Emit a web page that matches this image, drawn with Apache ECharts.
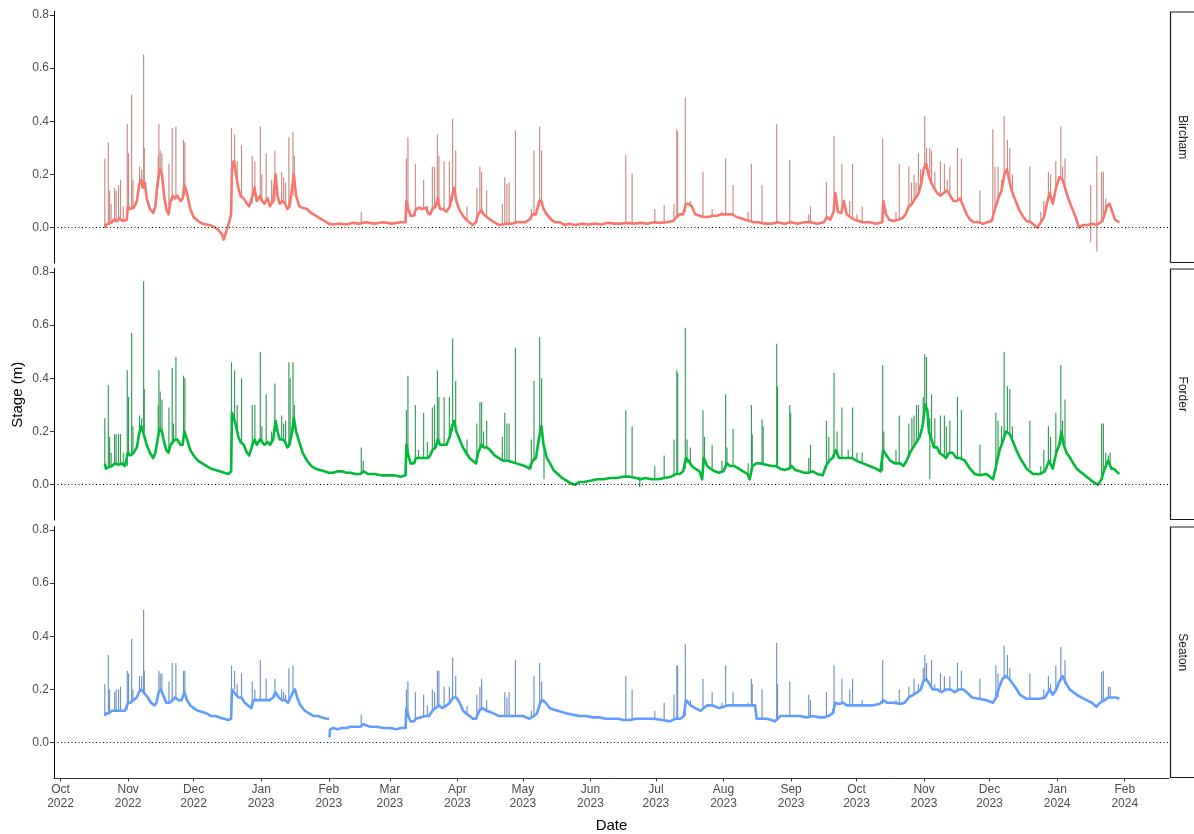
<!DOCTYPE html>
<html>
<head>
<meta charset="utf-8">
<title>Stage (m) by site</title>
<script src="https://cdn.jsdelivr.net/npm/echarts@6/dist/echarts.min.js"></script>
<style>
  html, body { margin: 0; padding: 0; background: #fff; }
  #chart { width: 1194px; height: 834px; }
</style>
</head>
<body>
<div id="chart"></div>
<script>
// Days are counted from 1 Oct 2022. Stage values in metres.
const sites = ['Bircham', 'Forder', 'Seaton'];
const siteColors = ['#F8766D', '#00BA38', '#619CFF'];
const spikeColors = ['#c98a85', '#349a58', '#6f92c4'];

const monthTicks = ['2022-10', '2022-11', '2022-12', '2023-01', '2023-02', '2023-03', '2023-04', '2023-05',
  '2023-06', '2023-07', '2023-08', '2023-09', '2023-10', '2023-11', '2023-12', '2024-01', '2024-02'];
const monthNames = ['Jan', 'Feb', 'Mar', 'Apr', 'May', 'Jun', 'Jul', 'Aug', 'Sep', 'Oct', 'Nov', 'Dec'];
const stageTicks = [0, 0.2, 0.4, 0.6, 0.8];

// Slowly varying stage: [day, stage]
const birchamBase = [[20.3,0.0],[20.8,0.01],[22,0.015],[23.5,0.02],[24.5,0.03],[26,0.025],[27,0.035],[28.5,0.025],[30.4,0.03],[30.9,0.08],[32,0.07],[33.5,0.075],[35,0.1],[36,0.16],[37,0.18],[37.8,0.15],[38.6,0.17],[39.5,0.11],[41,0.07],[42.5,0.055],[43.5,0.08],[44.5,0.17],[45.5,0.22],[46.5,0.2],[47.5,0.12],[48.5,0.07],[49.5,0.05],[50.5,0.1],[51.5,0.12],[52.5,0.11],[53.5,0.12],[55,0.1],[56,0.11],[56.8,0.16],[58,0.13],[59.5,0.07],[61,0.04],[63,0.025],[65,0.015],[67,0.012],[69,0.008],[71,0.0],[72.5,-0.01],[74,-0.025],[74.8,-0.045],[75.6,-0.025],[76.5,0.0],[77.3,0.02],[78.2,0.05],[78.6,0.22],[79.5,0.25],[80.5,0.2],[81.5,0.15],[82.5,0.12],[84,0.11],[85.5,0.09],[86.5,0.08],[88,0.12],[89,0.15],[90,0.1],[91.5,0.12],[92.5,0.1],[93.5,0.09],[95,0.11],[96,0.08],[97.5,0.1],[98.6,0.2],[99.5,0.12],[100.5,0.09],[102,0.1],[103,0.09],[104,0.07],[105,0.08],[106.2,0.15],[107,0.2],[108,0.12],[109.5,0.08],[111,0.075],[113,0.07],[115,0.055],[117,0.045],[119,0.035],[121,0.025],[123,0.015],[125,0.012],[128,0.015],[131,0.012],[134,0.018],[137,0.015],[140,0.02],[144,0.015],[148,0.02],[152,0.015],[156,0.02],[158.2,0.02],[158.6,0.1],[159.5,0.07],[160.5,0.045],[162,0.045],[163,0.07],[164.5,0.075],[166,0.07],[167.5,0.075],[168.5,0.055],[169.5,0.05],[170.5,0.07],[172,0.08],[173,0.11],[174,0.07],[175.5,0.07],[177,0.06],[178.5,0.08],[179.5,0.12],[180.5,0.15],[181.5,0.1],[183,0.065],[184.5,0.045],[186,0.03],[187.5,0.02],[189,0.01],[190.5,0.02],[191.5,0.05],[193,0.065],[194,0.05],[195.5,0.04],[197,0.03],[199,0.02],[201,0.01],[203,0.012],[205,0.015],[207,0.015],[209,0.02],[211,0.02],[213,0.02],[215,0.03],[216.5,0.05],[218,0.05],[219.5,0.1],[220.5,0.1],[221.5,0.07],[223,0.05],[225,0.03],[227,0.02],[229,0.02],[231,0.01],[233,0.015],[236,0.01],[239,0.015],[242,0.012],[245,0.015],[248,0.012],[251,0.018],[254,0.015],[257,0.015],[260,0.018],[263,0.015],[266,0.018],[269,0.015],[272,0.02],[275,0.018],[278,0.02],[281,0.025],[282.5,0.04],[284,0.05],[285.5,0.05],[286.8,0.09],[288,0.09],[289.5,0.08],[291,0.05],[293,0.045],[295,0.04],[297,0.04],[299,0.045],[301,0.045],[303,0.05],[305,0.05],[306.5,0.05],[308,0.05],[310,0.04],[312,0.035],[314,0.03],[316,0.025],[318,0.02],[320,0.02],[323,0.015],[326,0.015],[329,0.02],[332,0.015],[335,0.02],[338,0.015],[341,0.02],[344,0.02],[347,0.015],[350,0.02],[351.5,0.04],[353,0.03],[354.5,0.06],[355.3,0.13],[356.5,0.06],[358,0.055],[359.2,0.1],[360.5,0.05],[362,0.04],[364,0.03],[366,0.025],[368,0.02],[371,0.02],[374,0.015],[376.8,0.02],[377.3,0.1],[378.5,0.05],[380,0.03],[382,0.025],[384,0.03],[386,0.035],[387.5,0.05],[389,0.08],[390.5,0.09],[392,0.11],[393.5,0.13],[394.8,0.17],[395.8,0.22],[397,0.24],[398,0.2],[399.2,0.17],[400.5,0.15],[402,0.13],[403.5,0.12],[405,0.13],[406.5,0.14],[408,0.12],[409.5,0.1],[411,0.1],[412.5,0.11],[414,0.08],[415.5,0.05],[417,0.03],[419,0.02],[421,0.02],[423,0.015],[425,0.02],[427,0.025],[428.5,0.07],[430,0.11],[431.5,0.14],[432.8,0.2],[434,0.22],[435.5,0.16],[437,0.12],[438.5,0.09],[440,0.06],[441.5,0.04],[443,0.025],[445,0.02],[446.5,0.01],[448,0.0],[449.5,0.02],[451,0.04],[452.3,0.09],[453.5,0.13],[455,0.09],[456.5,0.15],[458,0.19],[459.5,0.18],[461,0.14],[462.5,0.1],[464,0.07],[465.5,0.04],[467,0.0],[469,0.01],[471,0.01],[473,0.015],[475,0.01],[477,0.02],[478.5,0.04],[479.8,0.08],[481,0.09],[482.3,0.06],[483.5,0.03],[485.5,0.02]];

const forderBase = [[20.3,0.08],[20.8,0.06],[22,0.065],[23.5,0.07],[25,0.08],[26.5,0.075],[28,0.08],[29.5,0.07],[30.4,0.07],[30.9,0.12],[32,0.11],[33.5,0.12],[35,0.14],[36,0.19],[37,0.22],[37.8,0.2],[38.6,0.2],[39.5,0.15],[41,0.12],[42.5,0.1],[43.5,0.12],[44.5,0.17],[45.5,0.21],[46.5,0.2],[47.5,0.16],[48.5,0.13],[49.5,0.12],[50.5,0.15],[51.5,0.16],[52.5,0.17],[53.5,0.17],[55,0.15],[56,0.15],[56.8,0.2],[58,0.17],[59.5,0.13],[61,0.11],[63,0.09],[65,0.08],[67,0.07],[69,0.06],[71,0.055],[73,0.05],[75,0.045],[77,0.04],[78.2,0.05],[78.6,0.27],[79.5,0.25],[80.5,0.22],[81.5,0.18],[82.5,0.16],[84,0.15],[85.5,0.12],[86.5,0.11],[88,0.15],[89,0.17],[90,0.15],[91.5,0.17],[92.5,0.16],[93.5,0.15],[95,0.16],[96,0.15],[97.5,0.17],[98.6,0.24],[99.5,0.2],[100.5,0.17],[102,0.17],[103,0.16],[104,0.14],[105,0.15],[106.2,0.2],[107,0.25],[108,0.2],[109.5,0.16],[111,0.12],[113,0.09],[115,0.07],[117,0.06],[119,0.055],[121,0.05],[123,0.045],[125,0.045],[127,0.05],[129,0.05],[131,0.045],[133,0.045],[135,0.04],[137.5,0.04],[139,0.05],[141,0.04],[144,0.04],[147,0.035],[150,0.035],[153,0.035],[156,0.03],[158.2,0.035],[158.6,0.15],[159.5,0.11],[160.5,0.08],[162,0.08],[163,0.1],[164.5,0.1],[166,0.1],[167.5,0.1],[168.5,0.1],[169.5,0.11],[170.5,0.13],[172,0.14],[173,0.17],[174,0.15],[175.5,0.15],[177,0.15],[178.5,0.18],[179.5,0.22],[180.5,0.24],[181.5,0.2],[183,0.17],[184.5,0.14],[186,0.12],[187.5,0.1],[189,0.09],[190.5,0.08],[191.5,0.12],[193,0.15],[194,0.14],[195.5,0.14],[197,0.13],[199,0.11],[201,0.1],[203,0.09],[205,0.09],[207,0.085],[209,0.08],[211,0.075],[213,0.07],[215,0.06],[216.5,0.09],[218,0.1],[219.5,0.18],[220.5,0.22],[221.5,0.15],[223,0.1],[224.5,0.08],[226,0.055],[228,0.04],[230,0.025],[232,0.015],[234,0.005],[236,0.0],[238,0.01],[240,0.01],[243,0.015],[246,0.02],[249,0.02],[252,0.025],[255,0.025],[258,0.03],[261,0.03],[264,0.025],[266,0.02],[268,0.025],[271,0.02],[274,0.02],[277,0.025],[280,0.03],[282,0.04],[284,0.04],[285.5,0.05],[286.8,0.1],[288,0.09],[289.5,0.07],[291,0.06],[293,0.05],[294.2,0.02],[295,0.1],[296.5,0.07],[298,0.06],[300,0.05],[302,0.045],[304,0.05],[305.5,0.08],[307,0.07],[309,0.07],[311,0.06],[313,0.05],[315,0.04],[316,0.02],[317.3,0.07],[319,0.08],[321,0.08],[323.5,0.075],[326,0.07],[328,0.07],[330,0.06],[332,0.055],[334,0.06],[335.3,0.07],[337,0.055],[339,0.05],[341,0.045],[343,0.045],[345,0.05],[347,0.04],[349.5,0.035],[351,0.07],[352.5,0.09],[354,0.1],[355.5,0.13],[357,0.1],[359,0.1],[361,0.1],[363,0.1],[365,0.09],[368,0.08],[371,0.07],[374,0.06],[376,0.05],[377.2,0.13],[378.7,0.11],[380.5,0.09],[382.5,0.08],[385,0.08],[386.5,0.07],[388,0.09],[389.5,0.12],[391,0.14],[392.5,0.16],[394,0.18],[395.3,0.22],[396.5,0.3],[397.5,0.28],[398.2,0.2],[399.4,0.17],[400.5,0.14],[402,0.14],[403,0.12],[404.7,0.11],[406,0.1],[407.5,0.12],[409,0.12],[410.8,0.1],[412.4,0.1],[414.7,0.09],[417,0.06],[419.3,0.04],[421.6,0.035],[424.6,0.04],[427.6,0.02],[429,0.07],[430.6,0.13],[432,0.16],[433.5,0.2],[435.3,0.19],[436.8,0.16],[438.3,0.13],[440,0.1],[443,0.06],[446,0.04],[449,0.04],[451.4,0.05],[453.3,0.09],[455,0.06],[456.6,0.12],[458,0.15],[459,0.2],[460,0.15],[461.3,0.12],[463,0.1],[464.4,0.08],[466,0.06],[467.4,0.05],[469,0.04],[470.5,0.03],[472,0.02],[473.5,0.01],[475.8,0.0],[477.3,0.02],[478.8,0.06],[480.4,0.09],[481.9,0.06],[483,0.06],[484.2,0.05],[485.5,0.04]];

const seatonBase = [[20.3,0.1],[20.8,0.11],[22,0.11],[23.5,0.12],[25,0.12],[26.5,0.12],[28,0.12],[29.5,0.12],[30.4,0.125],[31,0.15],[32,0.15],[33.5,0.16],[35,0.17],[36,0.19],[37,0.2],[38,0.19],[39,0.18],[40,0.17],[41.5,0.15],[43,0.14],[44,0.15],[45,0.19],[46,0.2],[47,0.18],[48.5,0.15],[50,0.15],[51.5,0.16],[52.5,0.17],[54,0.16],[55.5,0.16],[56.8,0.19],[58,0.16],[59.5,0.14],[61,0.13],[63,0.12],[65,0.115],[67,0.11],[69,0.1],[71,0.1],[73,0.095],[75,0.09],[77,0.085],[78.2,0.09],[78.6,0.2],[79.5,0.2],[80.5,0.18],[81.5,0.17],[83,0.17],[84.5,0.15],[86,0.14],[87.5,0.13],[88.5,0.16],[90,0.16],[91.5,0.16],[93,0.16],[94.5,0.16],[96,0.16],[97.5,0.17],[98.6,0.19],[100,0.17],[101.5,0.16],[103,0.16],[104.3,0.15],[105.5,0.17],[106.6,0.19],[107.5,0.2],[108.5,0.17],[110,0.14],[112,0.12],[114,0.11],[116,0.1],[118,0.1],[120,0.095],[122,0.09],[123.1,0.09],null,[123.3,0.02],[123.6,0.05],[125,0.055],[127,0.05],[129,0.055],[131,0.055],[133,0.06],[135,0.06],[137.5,0.06],[139,0.07],[140,0.065],[142,0.06],[145,0.06],[148,0.055],[151,0.055],[154,0.05],[156,0.055],[158.2,0.055],[158.6,0.13],[159.5,0.1],[160.5,0.08],[162,0.08],[163,0.09],[165,0.095],[167,0.1],[169,0.1],[170.5,0.12],[172,0.13],[173.5,0.14],[175,0.13],[177,0.14],[178.5,0.15],[180,0.17],[181.5,0.17],[183,0.15],[184.6,0.12],[186,0.11],[187.6,0.1],[189,0.09],[190.5,0.09],[192,0.12],[193.5,0.13],[195.3,0.12],[197,0.115],[198.5,0.11],[201,0.1],[204,0.1],[207.5,0.1],[210,0.1],[212,0.1],[215,0.09],[217,0.1],[218.5,0.11],[220,0.15],[221,0.16],[222.5,0.15],[224.3,0.13],[226,0.125],[228,0.12],[230,0.115],[232,0.11],[235,0.105],[238,0.1],[241,0.1],[244,0.095],[247,0.095],[250,0.09],[253,0.09],[256,0.09],[258,0.085],[261,0.085],[264,0.09],[268,0.09],[272,0.09],[276,0.085],[279.4,0.08],[282,0.09],[284.3,0.09],[285.8,0.1],[286.8,0.16],[288.9,0.14],[291,0.13],[293.5,0.12],[295,0.13],[296.5,0.14],[299,0.14],[302,0.13],[304,0.135],[306,0.14],[308,0.14],[310,0.14],[313,0.14],[316,0.14],[318.5,0.14],[319.2,0.09],[321,0.09],[323.7,0.09],[326,0.085],[327.5,0.08],[329,0.09],[330,0.1],[333,0.1],[336,0.1],[339,0.1],[342,0.095],[345,0.1],[348,0.095],[350,0.095],[352,0.1],[354,0.11],[355.3,0.15],[357,0.145],[359,0.15],[360.5,0.14],[363,0.14],[366,0.14],[369,0.14],[372,0.14],[375.5,0.145],[377.3,0.16],[379,0.15],[382,0.15],[385,0.145],[387,0.15],[389,0.17],[391,0.18],[393,0.19],[394.5,0.2],[395.6,0.23],[397,0.24],[398.5,0.22],[400,0.2],[402,0.2],[404,0.19],[406,0.2],[408,0.2],[410,0.19],[412,0.2],[414,0.2],[415.5,0.19],[418,0.17],[421,0.165],[424.5,0.16],[427.5,0.15],[429,0.17],[430.5,0.21],[432,0.24],[433.5,0.25],[435,0.24],[436.8,0.22],[438.5,0.2],[440,0.18],[443,0.165],[446,0.165],[449,0.165],[451.5,0.17],[453.5,0.2],[455,0.18],[456.6,0.2],[458,0.23],[459.5,0.25],[461.3,0.22],[462.8,0.2],[464.4,0.19],[466,0.18],[468,0.17],[470.5,0.16],[473,0.15],[475,0.135],[476.6,0.15],[478.8,0.16],[480.4,0.17],[482,0.17],[484,0.17],[485.5,0.165]];

// Short-lived storm peaks: [day, stage at foot, stage at peak]
const birchamSpikes = [[20.3,0.0,0.26],[21.9,0.01,0.32],[22.5,0.01,0.14],[23.2,0.02,0.09],[24.8,0.02,0.15],[25.5,0.02,0.14],[26.6,0.03,0.16],[27.5,0.03,0.18],[28.8,0.025,0.08],[30.6,0.03,0.39],[31.2,0.07,0.28],[32.6,0.07,0.5],[33.2,0.07,0.18],[36.2,0.14,0.23],[37.2,0.15,0.22],[38.1,0.15,0.65],[38.4,0.15,0.3],[44.8,0.15,0.27],[45.1,0.18,0.39],[45.7,0.2,0.29],[46.5,0.2,0.28],[49.7,0.06,0.24],[51.2,0.1,0.375],[52.9,0.11,0.38],[56.4,0.12,0.33],[57.0,0.12,0.32],[78.4,0.05,0.375],[79.8,0.22,0.35],[81.0,0.17,0.25],[83.0,0.12,0.31],[87.9,0.09,0.27],[89.1,0.12,0.25],[91.6,0.1,0.38],[92.3,0.1,0.2],[94.3,0.1,0.28],[96.8,0.09,0.18],[98.3,0.1,0.29],[99.0,0.12,0.2],[101.4,0.09,0.21],[102.3,0.09,0.19],[103.2,0.09,0.17],[104.7,0.08,0.34],[106.6,0.12,0.36],[107.2,0.18,0.27],[137.9,0.015,0.06],
  [158.6,0.02,0.26],[159.3,0.06,0.34],[162.7,0.045,0.24],[166.5,0.07,0.18],[168.2,0.055,0.08],[170.5,0.06,0.23],[171.5,0.07,0.23],[172.8,0.1,0.35],[173.5,0.1,0.27],[175.9,0.07,0.25],[178.3,0.07,0.25],[179.8,0.1,0.41],[181.2,0.13,0.29],[186.4,0.03,0.08],[190.9,0.02,0.15],[192.3,0.05,0.23],[193.1,0.06,0.21],[195.4,0.04,0.14],[202.6,0.01,0.09],[203.7,0.01,0.19],[204.7,0.012,0.165],[205.7,0.015,0.17],[208.6,0.02,0.366],[215.9,0.03,0.07],[217.1,0.05,0.29],[219.7,0.08,0.38],[220.6,0.1,0.29],[259.2,0.018,0.274],[262.1,0.015,0.205],[272.5,0.02,0.07],[276.8,0.02,0.085],[281.3,0.025,0.09],[282.6,0.04,0.37],[283.0,0.04,0.36],[286.5,0.06,0.49],[288.8,0.09,0.1],[294.6,0.04,0.21],[298.8,0.04,0.07],[303.3,0.05,0.06],[305.0,0.05,0.26],[308.4,0.05,0.16],[315.3,0.025,0.06],[316.8,0.025,0.24],[321.7,0.015,0.16],[328.4,0.02,0.39],[334.4,0.02,0.255],[343.1,0.02,0.05],[343.9,0.02,0.08],[351.2,0.03,0.17],[354.7,0.06,0.345],[358.3,0.055,0.24],[361.9,0.04,0.1],[363.2,0.03,0.24],[365.2,0.025,0.05],[367.6,0.02,0.08],[377.0,0.02,0.334],[383.1,0.03,0.06],[384.6,0.03,0.24],[389.0,0.08,0.23],[390.2,0.09,0.17],[391.4,0.1,0.2],[392.3,0.11,0.17],[393.4,0.13,0.28],[394.4,0.15,0.22],[396.3,0.22,0.42],[397.1,0.24,0.3],[398.6,0.2,0.3],[399.4,0.17,0.29],[400.9,0.15,0.21],[403.5,0.12,0.25],[405.3,0.13,0.24],[406.6,0.14,0.18],[407.8,0.12,0.23],[411.3,0.1,0.3],[413.1,0.1,0.26],[421.6,0.02,0.14],[427.5,0.025,0.37],[428.5,0.07,0.23],[429.9,0.1,0.23],[431.5,0.14,0.18],[432.7,0.2,0.42],[434.2,0.22,0.33],[435.3,0.16,0.3],[436.5,0.13,0.2],[444.5,0.02,0.23],[449.5,0.02,0.06],[450.9,0.04,0.1],[453.0,0.13,0.21],[454.0,0.11,0.2],[456.4,0.15,0.25],[458.7,0.19,0.38],[459.5,0.18,0.23],[460.6,0.14,0.26],[472.4,-0.055,0.16],[475.2,-0.09,0.27],[477.4,0.02,0.21],[478.2,0.02,0.21],[479.3,0.06,0.11],[480.5,0.08,0.09]];

const forderSpikes = [[20.3,0.08,0.25],[21.9,0.065,0.375],[22.5,0.065,0.18],[23.2,0.07,0.12],[24.8,0.08,0.19],[25.5,0.08,0.19],[26.6,0.075,0.19],[27.5,0.08,0.19],[28.8,0.075,0.12],[30.6,0.07,0.43],[31.2,0.12,0.33],[32.6,0.11,0.57],[33.2,0.12,0.22],[36.2,0.2,0.26],[37.2,0.21,0.25],[38.1,0.21,0.765],[38.4,0.2,0.36],[44.8,0.17,0.3],[45.1,0.2,0.43],[45.7,0.21,0.35],[46.5,0.2,0.32],[49.7,0.12,0.29],[51.2,0.15,0.44],[51.8,0.16,0.23],[52.9,0.17,0.48],[56.4,0.18,0.41],[57.0,0.2,0.4],[78.4,0.05,0.46],[79.8,0.25,0.43],[81.0,0.2,0.3],[83.0,0.16,0.4],[87.9,0.14,0.3],[89.1,0.16,0.3],[91.6,0.17,0.5],[92.3,0.16,0.22],[94.3,0.15,0.34],[96.8,0.15,0.2],[98.3,0.2,0.38],[99.0,0.2,0.24],[101.4,0.17,0.26],[102.3,0.17,0.23],[103.2,0.16,0.24],[104.7,0.14,0.46],[105.3,0.15,0.4],[106.6,0.2,0.46],[107.2,0.24,0.3],[137.9,0.04,0.14],[138.8,0.05,0.09],
  [158.6,0.035,0.28],[159.3,0.1,0.41],[162.7,0.08,0.3],[164.2,0.1,0.13],[166.5,0.1,0.27],[168.2,0.1,0.16],[170.5,0.12,0.29],[171.5,0.13,0.3],[172.8,0.16,0.43],[173.5,0.16,0.33],[175.9,0.15,0.33],[178.3,0.17,0.33],[179.8,0.2,0.55],[181.2,0.22,0.39],[186.4,0.12,0.17],[190.9,0.08,0.23],[192.3,0.13,0.31],[193.1,0.14,0.31],[194.0,0.14,0.2],[195.4,0.14,0.24],[202.6,0.09,0.18],[203.7,0.09,0.27],[204.7,0.09,0.23],[205.7,0.09,0.23],[208.6,0.08,0.515],[215.9,0.06,0.17],[217.1,0.09,0.39],[219.7,0.16,0.555],[220.6,0.2,0.4],[221.7,0.02,0.15],[259.2,0.03,0.28],[262.1,0.03,0.22],[265.6,-0.01,0.03],[272.5,0.02,0.07],[276.8,0.025,0.11],[281.3,0.03,0.17],[282.6,0.04,0.43],[283.0,0.04,0.42],[286.5,0.06,0.59],[287.3,0.08,0.17],[288.8,0.08,0.14],[294.6,0.05,0.28],[295.3,0.09,0.18],[298.8,0.06,0.15],[303.3,0.05,0.09],[305.0,0.06,0.34],[305.6,0.08,0.14],[308.4,0.07,0.21],[315.3,0.04,0.08],[316.8,0.05,0.3],[317.2,0.07,0.19],[321.7,0.08,0.245],[322.2,0.08,0.22],[328.4,0.07,0.53],[328.8,0.07,0.37],[334.4,0.06,0.3],[334.8,0.06,0.27],[343.1,0.045,0.1],[343.9,0.045,0.15],[351.2,0.06,0.24],[352.3,0.08,0.18],[354.7,0.1,0.42],[356.1,0.12,0.2],[358.3,0.1,0.29],[361.2,0.1,0.13],[363.2,0.1,0.29],[365.2,0.09,0.12],[367.6,0.08,0.12],[377.0,0.05,0.45],[377.5,0.13,0.2],[383.1,0.08,0.13],[384.6,0.08,0.26],[389.0,0.1,0.23],[390.4,0.13,0.25],[391.4,0.14,0.26],[392.5,0.16,0.3],[393.4,0.17,0.3],[395.6,0.22,0.33],[396.3,0.3,0.49],[397.1,0.28,0.48],[398.6,0.02,0.25],[399.4,0.17,0.34],[400.9,0.14,0.25],[403.5,0.12,0.26],[405.3,0.11,0.26],[406.2,0.1,0.22],[407.8,0.12,0.24],[411.3,0.1,0.33],[413.1,0.1,0.28],[421.6,0.035,0.15],[428.9,0.05,0.27],[429.9,0.1,0.24],[431.5,0.15,0.22],[432.7,0.17,0.5],[434.2,0.2,0.37],[435.3,0.19,0.36],[436.5,0.16,0.22],[444.5,0.06,0.24],[449.5,0.04,0.07],[450.9,0.05,0.13],[453.0,0.09,0.22],[454.0,0.08,0.18],[456.4,0.12,0.27],[458.7,0.15,0.45],[459.5,0.2,0.24],[460.6,0.15,0.32],[477.4,0.02,0.23],[478.2,0.04,0.23],[479.3,0.06,0.12],[480.5,0.09,0.11],[481.3,0.07,0.12]];

const seatonSpikes = [[20.3,0.1,0.22],[21.9,0.11,0.33],[22.5,0.11,0.2],[24.8,0.12,0.19],[25.5,0.12,0.2],[26.6,0.12,0.2],[27.5,0.12,0.21],[30.6,0.125,0.27],[31.2,0.15,0.26],[32.6,0.15,0.39],[33.2,0.16,0.2],[36.2,0.19,0.25],[37.2,0.2,0.25],[38.1,0.19,0.5],[38.4,0.19,0.27],[45.1,0.19,0.27],[45.7,0.2,0.26],[46.5,0.2,0.26],[49.7,0.15,0.23],[51.2,0.16,0.3],[52.9,0.17,0.3],[56.4,0.17,0.27],[57.0,0.18,0.27],[78.4,0.09,0.29],[79.8,0.2,0.27],[81.0,0.17,0.22],[83.0,0.17,0.26],[87.9,0.14,0.23],[89.1,0.16,0.2],[91.6,0.16,0.31],[94.3,0.16,0.24],[98.3,0.17,0.24],[101.4,0.16,0.2],[102.3,0.16,0.19],[103.2,0.16,0.18],[104.7,0.15,0.28],[106.6,0.19,0.29],[137.9,0.06,0.105],
  [158.6,0.055,0.2],[159.3,0.1,0.23],[162.7,0.085,0.19],[166.5,0.095,0.18],[168.2,0.1,0.14],[170.5,0.12,0.2],[171.5,0.13,0.19],[172.8,0.14,0.27],[173.5,0.14,0.27],[175.9,0.13,0.21],[178.3,0.15,0.21],[179.8,0.17,0.32],[181.2,0.17,0.25],[186.4,0.11,0.14],[190.9,0.09,0.18],[192.3,0.12,0.21],[193.1,0.13,0.24],[195.4,0.12,0.16],[203.7,0.1,0.19],[204.7,0.1,0.17],[205.7,0.1,0.19],[208.6,0.1,0.31],[215.9,0.09,0.12],[217.1,0.1,0.25],[219.7,0.14,0.3],[220.6,0.16,0.23],[259.2,0.085,0.25],[262.1,0.085,0.2],[272.5,0.09,0.12],[276.8,0.085,0.15],[281.3,0.085,0.18],[282.6,0.09,0.29],[283.0,0.09,0.29],[286.5,0.1,0.37],[288.8,0.14,0.16],[294.6,0.13,0.24],[298.8,0.14,0.19],[303.3,0.135,0.15],[305.0,0.14,0.29],[308.4,0.14,0.19],[315.3,0.14,0.15],[316.8,0.14,0.24],[317.2,0.14,0.22],[321.7,0.09,0.2],[328.4,0.09,0.375],[328.8,0.09,0.22],[334.4,0.1,0.23],[343.1,0.095,0.18],[343.9,0.095,0.16],[351.2,0.1,0.19],[354.7,0.11,0.29],[358.3,0.15,0.24],[361.9,0.14,0.2],[363.2,0.14,0.24],[367.6,0.14,0.16],[377.0,0.145,0.31],[383.1,0.15,0.16],[384.6,0.145,0.2],[389.0,0.17,0.21],[391.4,0.18,0.24],[393.4,0.19,0.22],[395.6,0.23,0.28],[396.3,0.23,0.33],[397.1,0.24,0.3],[399.4,0.2,0.31],[400.9,0.2,0.22],[403.5,0.19,0.26],[405.3,0.2,0.25],[407.8,0.2,0.25],[411.3,0.19,0.3],[413.1,0.2,0.27],[421.6,0.165,0.24],[428.9,0.16,0.29],[429.9,0.17,0.26],[431.5,0.22,0.24],[432.7,0.24,0.365],[434.2,0.25,0.33],[435.3,0.24,0.28],[444.5,0.165,0.26],[450.9,0.17,0.2],[453.0,0.2,0.25],[454.0,0.19,0.22],[456.4,0.2,0.29],[458.7,0.23,0.36],[460.6,0.22,0.31],[477.4,0.15,0.265],[478.2,0.16,0.27],[480.5,0.17,0.21],[481.3,0.17,0.21]];

const baseSeries = [birchamBase, forderBase, seatonBase];
const spikeSeries = [birchamSpikes, forderSpikes, seatonSpikes];

// ---- helpers ----
const DAY0 = new Date(2022, 9, 1).getTime();
const DAY_MS = 86400000;
const toTime = d => DAY0 + d * DAY_MS;
const monthTimes = monthTicks.map(s => {
  const [y, m] = s.split('-').map(Number);
  return new Date(y, m - 1, 1).getTime();
});

const FONT = "'Liberation Sans', Arial, sans-serif";
const panelLeft = 54;
const panelRight = 1169;
const panelTops = [11.5, 268.5, 526.5];
const panelHeight = 251.5;
const xMin = toTime(-3.0);
const xMax = toTime(508.3);

const grids = [], xAxes = [], yAxes = [], series = [], graphics = [];

sites.forEach((site, i) => {
  grids.push({ left: panelLeft, width: panelRight - panelLeft, top: panelTops[i], height: panelHeight, containLabel: false });
  const isBottom = i === sites.length - 1;
  // timestamps on a plain numeric axis, labelled at month starts
  xAxes.push({
    type: 'value', gridIndex: i, min: xMin, max: xMax, scale: true,
    show: isBottom,
    axisLine: { show: isBottom, onZero: false, lineStyle: { color: '#333', width: 1 } },
    axisTick: { show: isBottom, length: 3.5, customValues: monthTimes, lineStyle: { color: '#333' } },
    axisLabel: {
      show: isBottom, customValues: monthTimes, margin: 5, color: '#4d4d4d',
      fontFamily: FONT, fontSize: 12, lineHeight: 13.5, hideOverlap: false,
      showMinLabel: true, showMaxLabel: true,
      formatter: v => { const d = new Date(v); return monthNames[d.getMonth()] + '\n' + d.getFullYear(); }
    },
    splitLine: { show: false }
  });
  yAxes.push({
    type: 'value', gridIndex: i, min: -0.133, max: 0.813,
    axisLine: { show: true, onZero: false, lineStyle: { color: '#000', width: 1 } },
    axisTick: { show: true, length: 4, customValues: stageTicks, lineStyle: { color: '#333' } },
    axisLabel: { customValues: stageTicks, margin: 5, color: '#4d4d4d', fontFamily: FONT, fontSize: 12,
      formatter: v => Number(v).toFixed(1) },
    splitLine: { show: false }
  });

  // storm peaks as thin vertical strokes
  series.push({
    type: 'custom', name: site + ' peaks', xAxisIndex: i, yAxisIndex: i, z: 2,
    data: spikeSeries[i].map(s => [toTime(s[0]), s[1], s[2]]),
    encode: { x: 0, y: [1, 2] },
    renderItem: (params, api) => {
      const a = api.coord([api.value(0), api.value(1)]);
      const b = api.coord([api.value(0), api.value(2)]);
      return { type: 'line', shape: { x1: a[0], y1: a[1], x2: b[0], y2: b[1] },
        style: { stroke: spikeColors[i], lineWidth: 1.15 } };
    },
    silent: true, animation: false
  });

  // continuous stage record with the zero reference line
  series.push({
    type: 'line', name: site, xAxisIndex: i, yAxisIndex: i, z: 3,
    data: baseSeries[i].map(p => p === null ? [null, null] : [toTime(p[0]), p[1]]),
    showSymbol: false, symbol: 'none', connectNulls: false,
    lineStyle: { color: siteColors[i], width: 2.6, join: 'round' },
    itemStyle: { color: siteColors[i] },
    silent: true, animation: false,
    markLine: {
      silent: true, symbol: 'none', animation: false,
      label: { show: false },
      lineStyle: { color: '#000', width: 1, type: [1, 2.5] },
      data: [{ yAxis: 0 }]
    }
  });

  // facet strip on the right
  graphics.push({
    type: 'rect', silent: true, z: 10,
    shape: { x: 1170.5, y: panelTops[i] + 0.5, width: 30, height: panelHeight - 1 },
    style: { fill: '#fff', stroke: '#1a1a1a', lineWidth: 1.2 }
  });
  graphics.push({
    type: 'text', silent: true, z: 11,
    x: 1182, y: panelTops[i] + panelHeight / 2, rotation: -Math.PI / 2,
    style: { text: site, fill: '#1a1a1a', font: '12px ' + FONT, align: 'center', verticalAlign: 'middle' }
  });
});

graphics.push({
  type: 'text', silent: true,
  x: 18, y: (panelTops[0] + panelTops[2] + panelHeight) / 2, rotation: Math.PI / 2,
  style: { text: 'Stage (m)', fill: '#000', font: '15px ' + FONT, align: 'center', verticalAlign: 'middle' }
});
graphics.push({
  type: 'text', silent: true,
  x: (panelLeft + panelRight) / 2, y: 826,
  style: { text: 'Date', fill: '#000', font: '15px ' + FONT, align: 'center', verticalAlign: 'middle' }
});

const chart = echarts.init(document.getElementById('chart'), null, { renderer: 'canvas' });
chart.setOption({
  animation: false,
  backgroundColor: '#fff',
  grid: grids,
  xAxis: xAxes,
  yAxis: yAxes,
  series: series,
  graphic: graphics
});
</script>
</body>
</html>
